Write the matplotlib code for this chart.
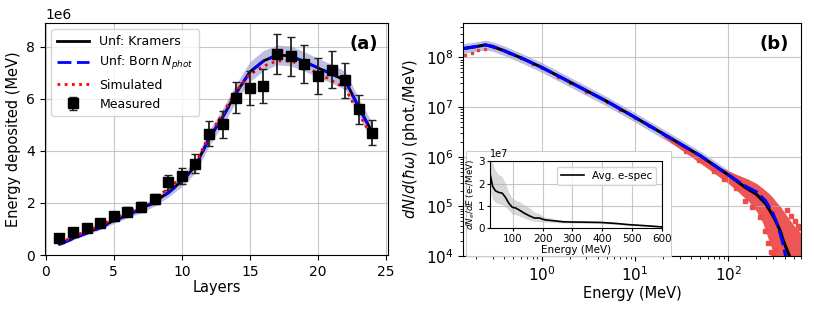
import numpy as np
import matplotlib
matplotlib.use('Agg')
import matplotlib.pyplot as plt
from matplotlib.patches import Rectangle

# ---- panel (a): energy deposited per layer (units of 1e6 MeV)
layers = np.arange(1, 25)
measured = [0.66, 0.89, 1.02, 1.21, 1.51, 1.66, 1.85, 2.15, 2.79, 3.04, 3.51, 4.66,
            5.01, 6.04, 6.41, 6.50, 7.73, 7.62, 7.34, 6.86, 7.11, 6.70, 5.59, 4.70]
meas_err = [0.07, 0.09, 0.10, 0.12, 0.15, 0.17, 0.19, 0.21, 0.28, 0.30, 0.35, 0.47,
            0.50, 0.60, 0.64, 0.65, 0.77, 0.76, 0.73, 0.69, 0.71, 0.67, 0.56, 0.47]
kramers = [0.42, 0.64, 0.85, 1.06, 1.32, 1.54, 1.77, 2.04, 2.40, 2.84, 3.41, 4.48,
           5.30, 6.22, 7.03, 7.45, 7.68, 7.64, 7.42, 7.18, 6.95, 6.70, 5.68, 4.70]
born = [0.40, 0.62, 0.83, 1.04, 1.30, 1.52, 1.75, 2.02, 2.38, 2.82, 3.39, 4.46,
        5.28, 6.21, 7.02, 7.44, 7.66, 7.63, 7.42, 7.19, 6.96, 6.68, 5.66, 4.66]
simulated = [0.45, 0.70, 0.92, 1.13, 1.40, 1.62, 1.87, 2.16, 2.55, 2.98, 3.50, 4.58,
             5.42, 6.30, 6.93, 7.25, 7.45, 7.45, 7.25, 6.98, 6.70, 6.40, 5.42, 4.52]
band_lo = [0.38, 0.58, 0.78, 0.97, 1.21, 1.42, 1.63, 1.88, 2.22, 2.63, 3.16, 4.18,
           5.00, 5.88, 6.66, 7.07, 7.30, 7.26, 7.06, 6.83, 6.60, 6.35, 5.35, 4.35]
band_hi = [0.46, 0.70, 0.92, 1.15, 1.43, 1.66, 1.91, 2.20, 2.58, 3.05, 3.66, 4.78,
           5.62, 6.58, 7.42, 7.85, 8.06, 8.02, 7.80, 7.55, 7.32, 7.05, 6.01, 5.05]

# ---- panel (b): photon spectrum
E_k = [0.144, 0.2, 0.25, 0.3, 0.4, 0.6, 1, 2, 5, 10, 20, 50, 100, 150, 200, 250,
       300, 330, 360, 390, 420, 452, 480]
kram_spec = [1.5e8, 1.65e8, 1.78e8, 1.65e8, 1.35e8, 9.8e7, 6.3e7, 3.2e7, 1.3e7, 6.2e6,
             2.9e6, 1.05e6, 4.3e5, 2.45e5, 1.75e5, 1.15e5, 6.5e4, 4.6e4, 3.2e4, 2.0e4,
             1.4e4, 1.0e4, 7e3]
spec_lo = [1.2e8, 1.32e8, 1.42e8, 1.32e8, 1.08e8, 7.8e7, 5.0e7, 2.55e7, 1.04e7, 4.95e6,
           2.3e6, 8.4e5, 3.4e5, 1.95e5, 1.4e5, 9.2e4, 5.2e4, 3.7e4, 2.55e4, 1.6e4,
           1.1e4, 8e3, 5.6e3]
spec_hi = [1.88e8, 2.06e8, 2.22e8, 2.06e8, 1.69e8, 1.22e8, 7.9e7, 4.0e7, 1.62e7, 7.7e6,
           3.6e6, 1.3e6, 5.4e5, 3.05e5, 2.2e5, 1.44e5, 8.1e4, 5.7e4, 4.0e4, 2.5e4,
           1.75e4, 1.25e4, 8.8e3]
E_b = [0.144, 0.2, 0.25, 0.3, 0.4, 0.6, 1, 2, 5, 10, 20, 50, 100, 150, 200, 250,
       300, 330, 360, 390, 410, 430]
born_spec = [1.5e8, 1.65e8, 1.78e8, 1.65e8, 1.35e8, 9.8e7, 6.3e7, 3.2e7, 1.3e7, 6.2e6,
             2.9e6, 1.05e6, 4.3e5, 2.6e5, 1.95e5, 1.3e5, 7.3e4, 4.7e4, 2.8e4, 1.6e4,
             1.0e4, 6e3]
E_sim = [0.15, 0.18, 0.21, 0.25, 0.3, 0.36, 0.45, 0.6, 0.8, 1, 1.5, 2, 3, 5, 7, 10,
         14, 20]
sim_spec = [1.1e8, 1.25e8, 1.38e8, 1.5e8, 1.6e8, 1.5e8, 1.25e8, 9.5e7, 7.4e7, 6.2e7,
            4.1e7, 3.1e7, 2.0e7, 1.28e7, 8.8e6, 6.0e6, 4.2e6, 2.8e6]
E_cloud = [20, 25, 40, 60, 80, 100, 130, 165, 200, 235, 270, 300, 330, 360, 400, 450,
           500, 550, 600]
cloud_hi = [2.8e6, 2.2e6, 1.3e6, 8.2e5, 6.2e5, 5.2e5, 4.2e5, 3.5e5, 2.9e5, 2.3e5,
            1.85e5, 1.5e5, 1.2e5, 1.0e5, 7.5e4, 5.5e4, 4.2e4, 3.4e4, 2.9e4]
cloud_lo = [2.5e6, 1.85e6, 1.0e6, 5.8e5, 3.9e5, 2.9e5, 1.9e5, 1.25e5, 8e4, 4.6e4,
            2.1e4, 1.25e4, 8e3, 5e3, 5e3, 5e3, 5e3, 5e3, 5e3]
# stray simulated points around the edge of the cloud
E_stray = [35, 48, 70, 90, 120, 150, 180, 220, 250, 265, 285, 300, 315, 420, 470,
           520, 560, 590]
y_stray = [1.3e6, 8.5e5, 5.2e5, 3.6e5, 2.3e5, 1.3e5, 9.5e4, 6.2e4, 3.2e4, 1.8e4,
           1.2e4, 1.05e4, 1.3e4, 8.5e4, 6.5e4, 5.0e4, 4.0e4, 3.6e4]

# ---- inset: average electron spectrum (units of 1e7)
E_e = [24, 32, 41, 52, 64, 75, 86, 98, 109, 120, 138, 155, 172, 189, 206, 234, 268,
       300, 350, 395, 450, 490, 550, 600]
espec = [2.4, 1.87, 1.68, 1.6, 1.57, 1.38, 1.12, 0.93, 0.9, 0.82, 0.67, 0.55, 0.45,
         0.45, 0.37, 0.33, 0.28, 0.27, 0.26, 0.25, 0.2, 0.15, 0.1, 0.05]
espec_lo = [1.65, 1.3, 1.15, 1.1, 1.05, 0.95, 0.8, 0.62, 0.6, 0.55, 0.45, 0.35, 0.3,
            0.3, 0.27, 0.25, 0.22, 0.22, 0.21, 0.2, 0.16, 0.12, 0.08, 0.03]
espec_hi = [3.3, 2.9, 2.6, 2.4, 2.32, 2.0, 1.6, 1.35, 1.25, 1.2, 1.05, 0.92, 0.72,
            0.65, 0.5, 0.42, 0.35, 0.33, 0.31, 0.3, 0.25, 0.19, 0.13, 0.07]

plt.rcParams['font.family'] = ['DejaVu Sans']
fig = plt.figure(figsize=(8.14, 3.10), dpi=100)
grid_kw = dict(color='#b0b0b0', linewidth=0.8, alpha=0.7)

ax1 = fig.add_axes([0.0553, 0.1774, 0.4214, 0.748])
sc = 1e6
ax1.fill_between(layers, np.array(band_lo) * sc, np.array(band_hi) * sc,
                 color='#2a2aa0', alpha=0.3, linewidth=0)
ax1.plot(layers, np.array(kramers) * sc, color='black', lw=2, label='Unf: Kramers')
ax1.plot(layers, np.array(born) * sc, color='blue', lw=2, ls=(0, (5, 2)),
         label='Unf: Born $N_{phot}$')
ax1.plot(layers, np.array(simulated) * sc, color='red', lw=2, ls=(0, (1, 1.6)),
         label='Simulated')
ax1.errorbar(layers, np.array(measured) * sc, yerr=np.array(meas_err) * sc, fmt='s',
             color='black', ms=6.5, capsize=3, elinewidth=1.3, ecolor='#222222',
             label='Measured')
ax1.set_xlim(-0.05, 25.15)
ax1.set_ylim(0, 8.9e6)
ax1.grid(True, **grid_kw)
ax1.tick_params(labelsize=10)
ax1.set_xlabel('Layers', fontsize=10.5, labelpad=1)
ax1.set_ylabel('Energy deposited (MeV)', fontsize=10.5)
ax1.yaxis.get_offset_text().set_fontsize(10)
ax1.legend(loc='upper left', fontsize=9, handlelength=2.6, borderpad=0.45,
           labelspacing=0.5)
ax1.text(0.97, 0.95, '(a)', transform=ax1.transAxes, ha='right', va='top',
         fontsize=13, fontweight='bold')

ax2 = fig.add_axes([0.5688, 0.174, 0.4152, 0.7516])
ax2.fill_between(E_k, spec_lo, spec_hi, color='#2a2aa0', alpha=0.3, linewidth=0)
ax2.fill_between(E_cloud, cloud_lo, cloud_hi, color='#ee4c4c', linewidth=0, alpha=0.95)
ax2.plot(E_stray, y_stray, ls='none', marker='s', ms=2.2, color='#ee4c4c')
ax2.plot(E_sim, sim_spec, ls='none', marker='s', ms=2, color='#e04040')
ax2.plot(E_k, kram_spec, color='black', lw=2.2)
ax2.plot(E_b, born_spec, color='blue', lw=2.2, ls=(0, (5, 1.5)))
ax2.set_xscale('log')
ax2.set_yscale('log')
ax2.set_xlim(0.144, 600)
ax2.set_ylim(1e4, 4.9e8)
ax2.grid(True, **grid_kw)
ax2.tick_params(labelsize=11)
ax2.set_xlabel('Energy (MeV)', fontsize=10.5, labelpad=1)
ax2.set_ylabel(r'$dN/d(\hbar\omega)$ (phot./MeV)', fontsize=10.5)
ax2.text(0.965, 0.95, '(b)', transform=ax2.transAxes, ha='right', va='top',
         fontsize=13, fontweight='bold')

# white box behind the inset
fig.patches.append(Rectangle((0.5725, 0.1742), 0.2515, 0.3403, transform=fig.transFigure,
                             facecolor='white', edgecolor='#cccccc', lw=0.8, zorder=1))

ax3 = fig.add_axes([0.6023, 0.2645, 0.2106, 0.2152], zorder=2)
ax3.fill_between(E_e, np.array(espec_lo) * 1e7, np.array(espec_hi) * 1e7,
                 color='gray', alpha=0.3, linewidth=0)
ax3.plot(E_e, np.array(espec) * 1e7, color='black', lw=1.2, label='Avg. e-spec')
ax3.set_xlim(24, 600)
ax3.set_ylim(0, 3e7)
ax3.set_xticks([100, 200, 300, 400, 500, 600])
ax3.set_yticks([0, 1e7, 2e7, 3e7])
ax3.grid(True, **grid_kw)
ax3.tick_params(labelsize=7.5, length=2.5, pad=1.5)
ax3.yaxis.get_offset_text().set_fontsize(7)
ax3.set_xlabel('Energy (MeV)', fontsize=7.5, labelpad=1)
ax3.set_ylabel(r'$dN_e/dE$ (e-/MeV)', fontsize=6.3, labelpad=1)
ax3.legend(loc='upper right', fontsize=7.5, handlelength=2.2)

fig.savefig('out.png', dpi=100)
